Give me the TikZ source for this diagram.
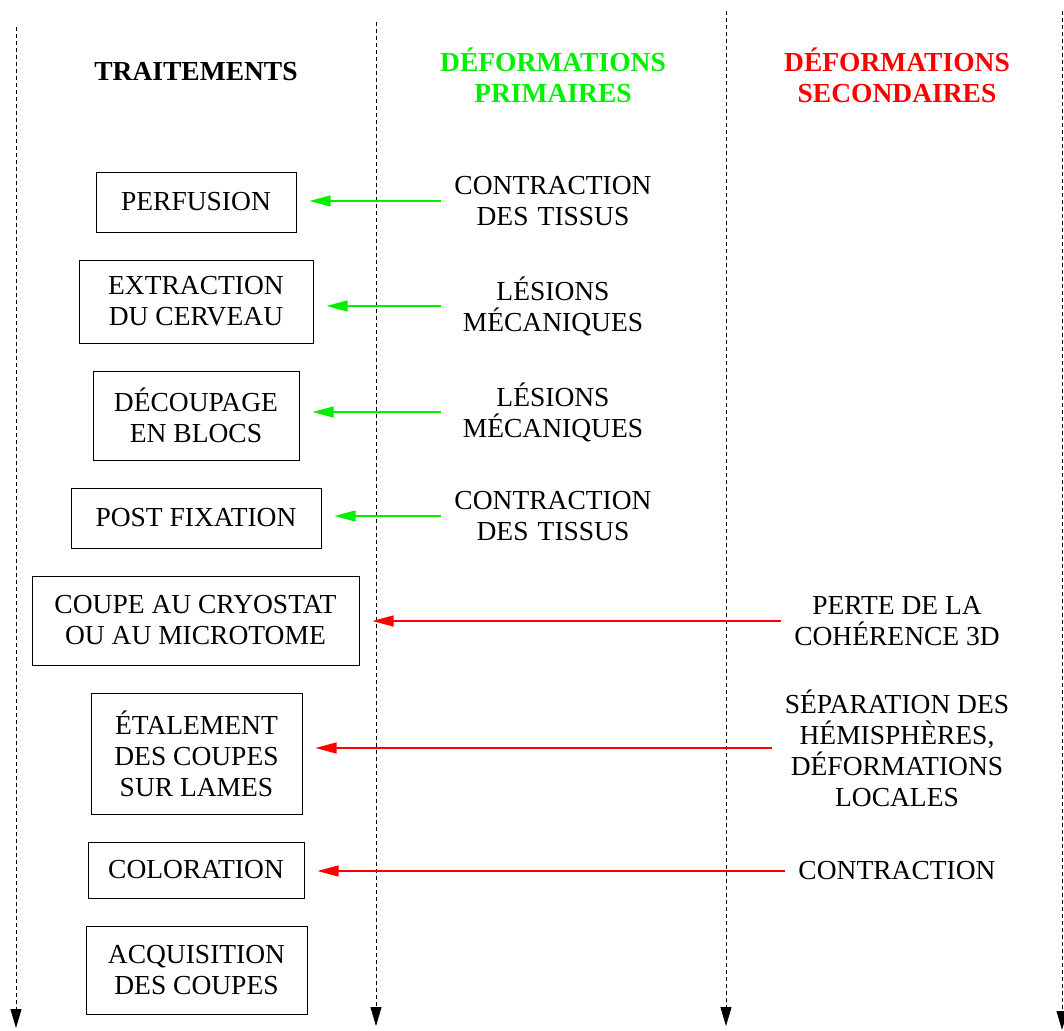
\documentclass[tikz,border=0pt]{standalone}
\usepackage{fontspec}
\setmainfont{Liberation Serif}
\usetikzlibrary{arrows.meta}
\definecolor{pgreen}{RGB}{0,240,0}
\definecolor{pred}{RGB}{255,0,0}
\begin{document}
\begin{tikzpicture}[x=1pt,y=-1pt,
  every node/.style={font=\fontsize{27.5}{31}\selectfont, align=center},
  box/.style={draw, line width=1pt, inner sep=0pt},
  hdr/.style={font=\fontsize{27.5}{31}\selectfont\bfseries},
  ltext/.style={text width=198pt, inner xsep=13pt, inner ysep=0pt},
  rtext/.style={inner xsep=13pt, inner ysep=0pt},
  timeline/.style={line width=0.9pt, dash pattern=on 4pt off 3pt, -{Triangle[length=19pt,width=11pt]}},
  garrow/.style={draw=pgreen, line width=1.2pt, -{Triangle[length=21pt,width=11pt]}, shorten >=13pt},
  rarrow/.style={draw=pred, line width=1.2pt, -{Triangle[length=21pt,width=11pt]}, shorten >=13pt}
]
\useasboundingbox (0,0) rectangle (1064,1030);

% timelines
\coordinate (l1t) at (16,27);   \coordinate (l1b) at (16,1028);
\coordinate (l2t) at (376,22);  \coordinate (l2b) at (376,1026);
\coordinate (l3t) at (726,11);  \coordinate (l3b) at (726,1026);
\coordinate (l4t) at (1062,11); \coordinate (l4b) at (1062,1030);
\draw[timeline] (l1t) -- (l1b);
\draw[timeline] (l2t) -- (l2b);
\draw[timeline] (l3t) -- (l3b);
\draw[timeline] (l4t) -- (l4b);

% headers
\node[hdr] (h1) at (196,72) {TRAITEMENTS};
\node[hdr, text=pgreen] (h2) at (553,75) {DÉFORMATIONS\\PRIMAIRES};
\node[hdr, text=pred] (h3) at (897,75) {DÉFORMATIONS\\SECONDAIRES};

% treatment boxes
\node[box, minimum width=200pt, minimum height=60pt] (b1) at (196,202) {PERFUSION};
\node[box, minimum width=234pt, minimum height=83pt] (b2) at (196,301.5) {EXTRACTION\\DU CERVEAU};
\node[box, minimum width=206pt, minimum height=89pt] (b3) at (196,415.5) {DÉCOUPAGE\\EN BLOCS};
\node[box, minimum width=250pt, minimum height=60pt] (b4) at (196,518) {POST FIXATION};
\node[box, minimum width=327pt, minimum height=89pt] (b5) at (195.5,620.5) {COUPE AU CRYOSTAT\\OU AU MICROTOME};
\node[box, minimum width=211pt, minimum height=121pt] (b6) at (196.5,753.5) {ÉTALEMENT\\DES COUPES\\SUR LAMES};
\node[box, minimum width=216pt, minimum height=56pt] (b7) at (196,870) {COLORATION};
\node[box, minimum width=221pt, minimum height=88pt] (b8) at (196.5,970) {ACQUISITION\\DES COUPES};

% primary deformations
\node[ltext] (p1) at (553,201) {CONTRACTION\\DES TISSUS};
\node[ltext] (p2) at (553,306) {LÉSIONS\\MÉCANIQUES};
\node[ltext] (p3) at (553,412) {LÉSIONS\\MÉCANIQUES};
\node[ltext] (p4) at (553,516) {CONTRACTION\\DES TISSUS};

% secondary deformations
\node[rtext] (s1) at (897,621) {PERTE DE LA\\COHÉRENCE 3D};
\node[rtext] (s2) at (897,748) {SÉPARATION DES\\HÉMISPHÈRES,\\DÉFORMATIONS\\LOCALES};
\node[rtext] (s3) at (897,871) {CONTRACTION};

% arrows
\draw[garrow] (p1.west) -- (p1.west -| b1.east);
\draw[garrow] (p2.west) -- (p2.west -| b2.east);
\draw[garrow] (p3.west) -- (p3.west -| b3.east);
\draw[garrow] (p4.west) -- (p4.west -| b4.east);
\draw[rarrow] (s1.west) -- (s1.west -| b5.east);
\draw[rarrow] (s2.west) -- (s2.west -| b6.east);
\draw[rarrow] (s3.west) -- (s3.west -| b7.east);
\end{tikzpicture}
\end{document}
